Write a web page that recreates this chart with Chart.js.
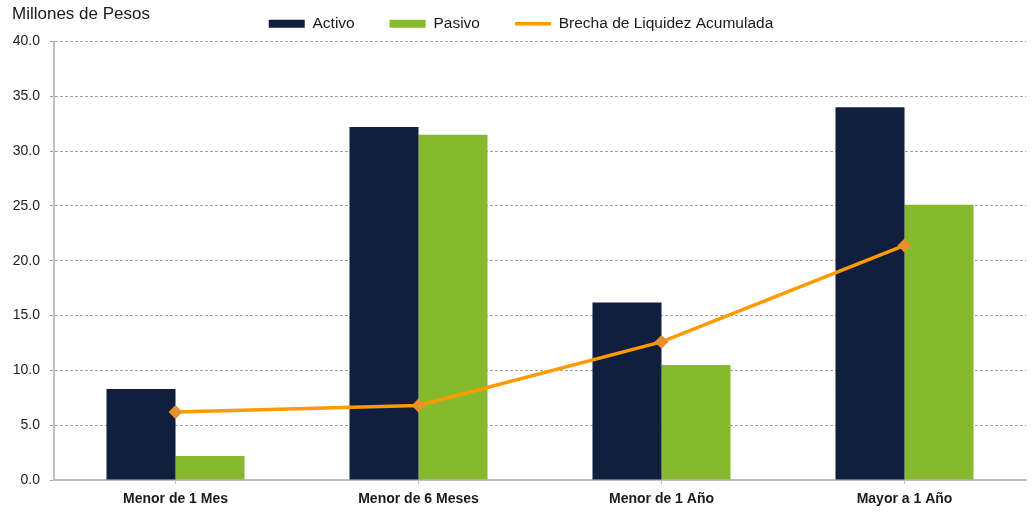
<!DOCTYPE html>
<html>
<head>
<meta charset="utf-8">
<script src="https://cdn.jsdelivr.net/npm/chart.js@4.4.1/dist/chart.umd.min.js"></script>
<style>
  html, body { margin: 0; padding: 0; background: #fff; }
  #wrap { position: relative; width: 1034px; height: 512px; }
</style>
</head>
<body>
<div id="wrap"><canvas id="chart"></canvas></div>
<script>
// data
const categories = ['Menor de 1 Mes', 'Menor de 6 Meses', 'Menor de 1 Año', 'Mayor a 1 Año'];
const activo = [8.3, 32.2, 16.2, 34.0];
const pasivo = [2.2, 31.5, 10.5, 25.1];
const brecha = [6.2, 6.8, 12.6, 21.4];
const yTicks = [0, 5, 10, 15, 20, 25, 30, 35, 40];

const FONT = "'Liberation Sans', Arial, sans-serif";

// "Millones de Pesos" label in the top-left corner
const unitLabel = {
    id: 'unitLabel',
    afterLayout(chart) {
        // nudge legend a bit right, like the original
        chart.legend.left += 6;
        chart.legend.right += 6;
    },
    afterDraw(chart) {
        const ctx = chart.ctx;
        ctx.save();
        ctx.font = "17px " + FONT;
        ctx.fillStyle = '#1a1a1a';
        ctx.textBaseline = 'middle';
        ctx.fillText('Millones de Pesos', 12, 14);
        ctx.restore();
    }
};

new Chart(document.getElementById('chart'), {
    data: {
        labels: categories,
        datasets: [
            {
                type: 'line',
                label: 'Brecha de Liquidez Acumulada',
                data: brecha,
                borderColor: '#ff9900',
                backgroundColor: '#ff9900',
                borderWidth: 3.5,
                pointStyle: 'rectRot',
                pointRadius: 4.5,
                pointBackgroundColor: '#e8902a',
                pointBorderColor: '#e8902a',
                order: 0
            },
            {
                type: 'bar',
                label: 'Activo',
                data: activo,
                backgroundColor: '#0f1f3d',
                order: 1
            },
            {
                type: 'bar',
                label: 'Pasivo',
                data: pasivo,
                backgroundColor: '#86b92e',
                order: 2
            }
        ]
    },
    options: {
        responsive: true,
        maintainAspectRatio: false,
        animation: false,
        layout: { padding: { left: 4, right: 8, top: -19, bottom: 0 } },
        datasets: {
            bar: { barPercentage: 1.0, categoryPercentage: 0.568 }
        },
        plugins: {
            tooltip: { enabled: false },
            legend: {
                position: 'top',
                labels: {
                    font: { family: FONT, size: 15.5 },
                    color: '#1a1a1a',
                    usePointStyle: true,
                    pointStyleWidth: 36,
                    boxHeight: 8,
                    padding: 35,
                    generateLabels(chart) {
                        // order: Activo, Pasivo, line
                        const ds = chart.data.datasets;
                        return [1, 2, 0].map(i => ({
                            text: ds[i].label,
                            datasetIndex: i,
                            fillStyle: ds[i].type === 'line' ? ds[i].borderColor : ds[i].backgroundColor,
                            strokeStyle: ds[i].type === 'line' ? ds[i].borderColor : ds[i].backgroundColor,
                            lineWidth: ds[i].type === 'line' ? 3.5 : 0,
                            pointStyle: ds[i].type === 'line' ? 'line' : 'rect',
                            fontColor: '#1a1a1a'
                        }));
                    }
                }
            }
        },
        scales: {
            x: {
                afterFit(scale) {
                    scale.height = 32;
                },
                grid: {
                    display: true,
                    drawOnChartArea: false,
                    offset: false,
                    tickLength: 4,
                    tickColor: '#bfbfbf'
                },
                border: { display: true, color: '#bfbfbf', width: 2 },
                ticks: {
                    font: { family: FONT, size: 14, weight: 'bold' },
                    color: '#1a1a1a',
                    padding: 7
                }
            },
            y: {
                min: 0,
                max: 40,
                afterBuildTicks(scale) {
                    scale.ticks = yTicks.map(v => ({ value: v }));
                },
                afterFit(scale) {
                    scale.width = 50;
                },
                grid: {
                    color: '#a0a0a0',
                    tickColor: '#a0a0a0',
                    tickLength: 4,
                    drawTicks: true
                },
                border: { display: true, color: '#bfbfbf', width: 2, dash: [3, 2] },
                ticks: {
                    font: { family: FONT, size: 14 },
                    color: '#222222',
                    padding: 10,
                    callback: v => v.toFixed(1)
                }
            }
        }
    },
    plugins: [unitLabel]
});
</script>
</body>
</html>
